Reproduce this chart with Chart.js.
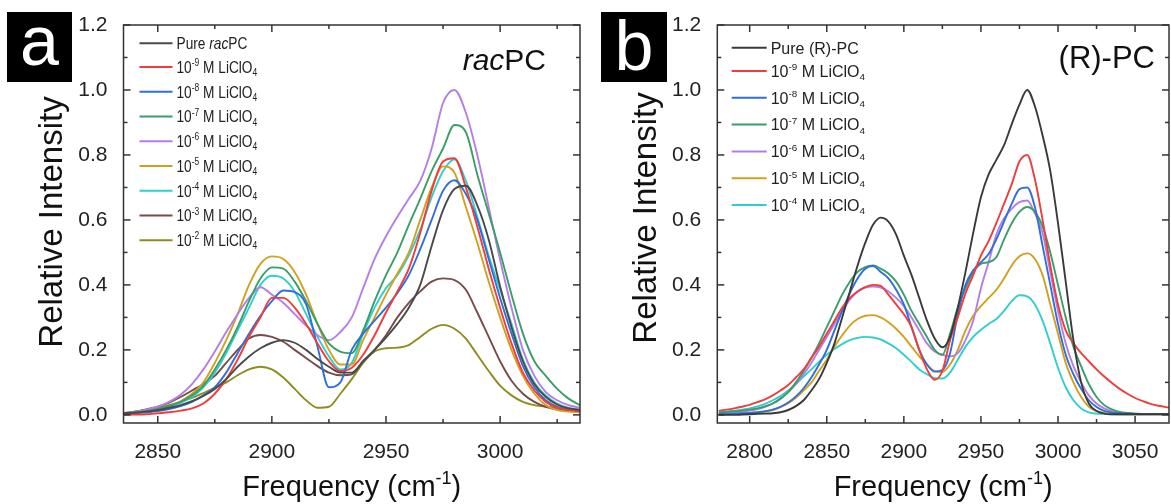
<!DOCTYPE html>
<html>
<head>
<meta charset="utf-8">
<script src="https://cdn.jsdelivr.net/npm/chart.js@4.4.1/dist/chart.umd.min.js"></script>
<style>
  html, body { margin: 0; padding: 0; background: #fff; }
  #wrap { position: relative; width: 1171px; height: 504px; overflow: hidden; }
  #chartA { position: absolute; left: 0; top: 0; }
  #chartB { position: absolute; left: 590px; top: 0; }
</style>
</head>
<body>
<div id="wrap">
  <canvas id="chartA" width="590" height="504"></canvas>
  <canvas id="chartB" width="581" height="504"></canvas>
</div>
<script>
// ---- panel a : racPC ----
const freqA = [2835, 2840, 2845, 2850, 2855, 2860, 2865, 2870, 2875, 2880, 2885, 2890, 2895, 2900,
  2905, 2910, 2915, 2920, 2925, 2930, 2935, 2940, 2945, 2950, 2955, 2960, 2965, 2970, 2975, 2980,
  2985, 2990, 2995, 3000, 3005, 3010, 3015, 3020, 3025, 3030, 3035];
const xTicksA = [2850, 2900, 2950, 3000];

const pureRac = [0.005, 0.007, 0.01, 0.015, 0.022, 0.03, 0.042, 0.058, 0.08, 0.11, 0.148, 0.18, 0.205, 0.222,
  0.23, 0.222, 0.2, 0.172, 0.148, 0.13, 0.13, 0.165, 0.2, 0.238, 0.28, 0.33, 0.4, 0.52, 0.63, 0.695,
  0.705, 0.645, 0.54, 0.395, 0.27, 0.165, 0.095, 0.055, 0.032, 0.02, 0.015];
const racM9 = [0.0, 0.001, 0.002, 0.005, 0.008, 0.013, 0.02, 0.035, 0.065, 0.11, 0.17, 0.24, 0.3, 0.36,
  0.36, 0.33, 0.28, 0.22, 0.165, 0.135, 0.145, 0.185, 0.245, 0.315, 0.38, 0.45, 0.56, 0.69, 0.78, 0.79,
  0.7, 0.58, 0.45, 0.33, 0.22, 0.13, 0.075, 0.04, 0.022, 0.015, 0.012];
const racM8 = [0.003, 0.005, 0.008, 0.012, 0.018, 0.027, 0.04, 0.06, 0.085, 0.13, 0.19, 0.25, 0.305, 0.35,
  0.383, 0.378, 0.34, 0.21, 0.085, 0.1, 0.2, 0.25, 0.29, 0.33, 0.375, 0.43, 0.51, 0.6, 0.69, 0.722,
  0.68, 0.6, 0.48, 0.36, 0.25, 0.15, 0.085, 0.045, 0.025, 0.017, 0.014];
const racM7 = [0.005, 0.008, 0.012, 0.018, 0.028, 0.04, 0.06, 0.09, 0.14, 0.2, 0.27, 0.35, 0.42, 0.454,
  0.45, 0.41, 0.35, 0.28, 0.22, 0.195, 0.19, 0.26, 0.35, 0.43, 0.5, 0.585, 0.665, 0.75, 0.82, 0.892,
  0.87, 0.74, 0.62, 0.5, 0.37, 0.25, 0.165, 0.12, 0.08, 0.05, 0.03];
const racM6 = [0.005, 0.01, 0.016, 0.025, 0.04, 0.062, 0.095, 0.14, 0.195, 0.255, 0.31, 0.36, 0.393, 0.37,
  0.345, 0.31, 0.275, 0.245, 0.23, 0.255, 0.3, 0.39, 0.48, 0.55, 0.61, 0.665, 0.72, 0.82, 0.96, 1.0,
  0.93, 0.8, 0.64, 0.477, 0.33, 0.2, 0.12, 0.07, 0.045, 0.03, 0.022];
const racM5 = [0.005, 0.008, 0.012, 0.018, 0.028, 0.042, 0.065, 0.1, 0.16, 0.23, 0.31, 0.4, 0.465, 0.488,
  0.48, 0.44, 0.37, 0.28, 0.2, 0.155, 0.155, 0.23, 0.3, 0.37, 0.435, 0.5, 0.6, 0.7, 0.765, 0.745,
  0.64, 0.53, 0.41, 0.3, 0.2, 0.12, 0.065, 0.03, 0.015, 0.01, 0.008];
const racM4 = [0.003, 0.006, 0.01, 0.016, 0.025, 0.037, 0.055, 0.085, 0.13, 0.19, 0.26, 0.33, 0.4, 0.428,
  0.42, 0.38, 0.31, 0.24, 0.18, 0.14, 0.16, 0.25, 0.33, 0.39, 0.43, 0.49, 0.57, 0.67, 0.75, 0.787,
  0.72, 0.61, 0.49, 0.385, 0.28, 0.17, 0.1, 0.06, 0.035, 0.022, 0.016];
const racM3 = [0.005, 0.01, 0.017, 0.025, 0.038, 0.055, 0.075, 0.095, 0.12, 0.16, 0.2, 0.235, 0.246, 0.24,
  0.225, 0.2, 0.175, 0.15, 0.13, 0.122, 0.125, 0.165, 0.2, 0.245, 0.3, 0.345, 0.38, 0.41, 0.42, 0.415,
  0.385, 0.315, 0.24, 0.165, 0.105, 0.065, 0.04, 0.025, 0.017, 0.014, 0.013];
const racM2 = [0.005, 0.01, 0.015, 0.022, 0.03, 0.04, 0.052, 0.067, 0.083, 0.1, 0.122, 0.14, 0.148, 0.14,
  0.115, 0.08, 0.045, 0.022, 0.025, 0.065, 0.11, 0.16, 0.195, 0.205, 0.207, 0.215, 0.24, 0.265, 0.277, 0.265,
  0.235, 0.185, 0.135, 0.09, 0.06, 0.04, 0.03, 0.025, 0.022, 0.018, 0.015];

// ---- panel b : (R)-PC ----
const freqB = [2780, 2785, 2790, 2795, 2800, 2805, 2810, 2815, 2820, 2825, 2830, 2835, 2840, 2845, 2850,
  2855, 2860, 2865, 2870, 2875, 2880, 2885, 2890, 2895, 2900, 2905, 2910, 2915, 2920, 2925, 2930,
  2935, 2940, 2945, 2950, 2955, 2960, 2965, 2970, 2975, 2980, 2985, 2990, 2995, 3000, 3005, 3010,
  3015, 3020, 3025, 3030, 3035, 3040, 3045, 3050, 3055, 3060, 3065, 3070, 3075];
const xTicksB = [2800, 2850, 2900, 2950, 3000, 3050];

const pureR = [0.0, 0.0, 0.0, 0.001, 0.002, 0.003, 0.004, 0.005, 0.008, 0.015, 0.027, 0.045, 0.075, 0.11, 0.16,
  0.22, 0.3, 0.38, 0.46, 0.53, 0.585, 0.607, 0.595, 0.555, 0.49, 0.43, 0.36, 0.29, 0.235, 0.208, 0.24,
  0.33, 0.44, 0.56, 0.67, 0.74, 0.785, 0.83, 0.895, 0.955, 1.0, 0.95, 0.86, 0.75, 0.59, 0.41, 0.23,
  0.1, 0.035, 0.012, 0.004, 0.002, 0.002, 0.002, 0.002, 0.002, 0.002, 0.002, 0.002, 0.002];
const rM9 = [0.013, 0.016, 0.02, 0.025, 0.031, 0.039, 0.048, 0.06, 0.075, 0.092, 0.115, 0.14, 0.175, 0.21, 0.25,
  0.29, 0.33, 0.36, 0.38, 0.393, 0.4, 0.397, 0.37, 0.34, 0.31, 0.27, 0.2, 0.14, 0.108, 0.135, 0.23,
  0.3, 0.374, 0.43, 0.49, 0.535, 0.59, 0.65, 0.71, 0.78, 0.8, 0.725, 0.6, 0.46, 0.34, 0.26, 0.22,
  0.19, 0.165, 0.14, 0.118, 0.098, 0.08, 0.065, 0.052, 0.042, 0.034, 0.028, 0.024, 0.021];
const rM8 = [0.003, 0.003, 0.004, 0.005, 0.006, 0.008, 0.011, 0.016, 0.025, 0.038, 0.057, 0.082, 0.115, 0.155, 0.2,
  0.26, 0.32, 0.375, 0.42, 0.45, 0.458, 0.44, 0.42, 0.385, 0.34, 0.27, 0.2, 0.155, 0.133, 0.138, 0.19,
  0.31, 0.4, 0.445, 0.47, 0.495, 0.54, 0.595, 0.65, 0.695, 0.7, 0.64, 0.52, 0.4, 0.28, 0.185, 0.125,
  0.08, 0.045, 0.024, 0.012, 0.007, 0.005, 0.004, 0.003, 0.003, 0.003, 0.003, 0.003, 0.003];
const rM7 = [0.008, 0.009, 0.011, 0.013, 0.016, 0.02, 0.026, 0.035, 0.05, 0.07, 0.1, 0.135, 0.175, 0.22, 0.27,
  0.32, 0.37, 0.41, 0.44, 0.455, 0.46, 0.45, 0.435, 0.41, 0.37, 0.32, 0.28, 0.24, 0.2, 0.185, 0.25,
  0.33, 0.39, 0.44, 0.465, 0.47, 0.485, 0.54, 0.59, 0.625, 0.64, 0.625, 0.58, 0.5, 0.4, 0.3, 0.21,
  0.15, 0.095, 0.055, 0.03, 0.017, 0.009, 0.006, 0.004, 0.003, 0.003, 0.003, 0.003, 0.003];
const rM6 = [0.005, 0.006, 0.008, 0.01, 0.013, 0.018, 0.025, 0.035, 0.05, 0.07, 0.095, 0.125, 0.16, 0.2, 0.24,
  0.28, 0.32, 0.355, 0.38, 0.392, 0.395, 0.392, 0.38, 0.36, 0.335, 0.3, 0.26, 0.22, 0.195, 0.185, 0.18,
  0.19, 0.23, 0.29, 0.39, 0.47, 0.555, 0.605, 0.635, 0.655, 0.66, 0.62, 0.56, 0.44, 0.32, 0.22, 0.15,
  0.1, 0.06, 0.035, 0.02, 0.011, 0.007, 0.005, 0.004, 0.003, 0.003, 0.003, 0.003, 0.003];
const rM5 = [0.002, 0.002, 0.003, 0.004, 0.005, 0.007, 0.01, 0.015, 0.024, 0.036, 0.053, 0.075, 0.1, 0.135, 0.17,
  0.21, 0.245, 0.275, 0.295, 0.305, 0.307, 0.3, 0.285, 0.265, 0.24, 0.21, 0.18, 0.155, 0.135, 0.132, 0.155,
  0.2, 0.26, 0.305, 0.335, 0.36, 0.385, 0.42, 0.46, 0.488, 0.497, 0.48, 0.43, 0.34, 0.25, 0.16, 0.1,
  0.055, 0.025, 0.012, 0.006, 0.003, 0.002, 0.002, 0.002, 0.002, 0.002, 0.002, 0.002, 0.002];
const rM4 = [0.008, 0.01, 0.013, 0.016, 0.02, 0.026, 0.034, 0.045, 0.058, 0.075, 0.095, 0.118, 0.14, 0.163, 0.185,
  0.203, 0.218, 0.23, 0.237, 0.24, 0.238, 0.232, 0.22, 0.205, 0.185, 0.163, 0.14, 0.125, 0.113, 0.112, 0.13,
  0.17, 0.21, 0.24, 0.262, 0.28, 0.295, 0.32, 0.35, 0.368, 0.365, 0.34, 0.29, 0.22, 0.145, 0.085, 0.045,
  0.02, 0.008, 0.004, 0.003, 0.002, 0.002, 0.002, 0.002, 0.002, 0.002, 0.002, 0.002, 0.002];

const yTicks = [0, 0.2, 0.4, 0.6, 0.8, 1.0, 1.2];

const labelsA = ['Pure *rac*PC', '10^{-9} M LiClO_{4}', '10^{-8} M LiClO_{4}', '10^{-7} M LiClO_{4}',
  '10^{-6} M LiClO_{4}', '10^{-5} M LiClO_{4}', '10^{-4} M LiClO_{4}', '10^{-3} M LiClO_{4}', '10^{-2} M LiClO_{4}'];
const labelsB = ['Pure (R)-PC', '10^{-9} M LiClO_{4}', '10^{-8} M LiClO_{4}', '10^{-7} M LiClO_{4}',
  '10^{-6} M LiClO_{4}', '10^{-5} M LiClO_{4}', '10^{-4} M LiClO_{4}'];

const colorsA = ['#4a4a4a', '#f03c3c', '#2f6fdc', '#3a9e68', '#b47ee6', '#d3a01e', '#2fcfcf', '#7a4a4a', '#8e8c1c'];
const colorsB = ['#3a3a3a', '#f03c3c', '#2f6fdc', '#3a9e68', '#b47ee6', '#d3a01e', '#2fcfcf'];

const FONT = "'Liberation Sans', Arial, Helvetica, sans-serif";

// tiny rich text: ^{sup} _{sub} *italic*
function parseRich(str) {
  const out = [];
  const re = /\^\{([^}]*)\}|_\{([^}]*)\}|\*([^*]*)\*|([^\^_*]+)/g;
  let m;
  while ((m = re.exec(str))) {
    if (m[1] !== undefined) out.push({ t: m[1], k: 'sup' });
    else if (m[2] !== undefined) out.push({ t: m[2], k: 'sub' });
    else if (m[3] !== undefined) out.push({ t: m[3], k: 'it' });
    else out.push({ t: m[4], k: 'n' });
  }
  return out;
}

function drawRich(ctx, str, x, y, size, align) {
  const segs = parseRich(str);
  const fontFor = s => {
    const small = s.k === 'sup' || s.k === 'sub';
    return (s.k === 'it' ? 'italic ' : '') + (small ? size * 0.62 : size).toFixed(1) + 'px ' + FONT;
  };
  let w = 0;
  segs.forEach(s => { ctx.font = fontFor(s); s.w = ctx.measureText(s.t).width; w += s.w; });
  let cx = align === 'right' ? x - w : (align === 'center' ? x - w / 2 : x);
  ctx.textAlign = 'left';
  ctx.textBaseline = 'alphabetic';
  segs.forEach(s => {
    ctx.font = fontFor(s);
    const dy = s.k === 'sup' ? -size * 0.4 : (s.k === 'sub' ? size * 0.2 : 0);
    ctx.fillText(s.t, cx, y + dy);
    cx += s.w;
  });
}

// frame, inward ticks, legend, titles, panel letter
function makeDecor(c) {
  return {
    id: 'decor',
    afterDraw(chart) {
      const ctx = chart.ctx;
      const a = chart.chartArea;
      const xs = chart.scales.x, ys = chart.scales.y;
      ctx.save();
      ctx.strokeStyle = '#333';
      ctx.lineWidth = 1.5;
      ctx.strokeRect(a.left, a.top, a.right - a.left, a.bottom - a.top);
      const line = (x1, y1, x2, y2) => { ctx.beginPath(); ctx.moveTo(x1, y1); ctx.lineTo(x2, y2); ctx.stroke(); };
      const withMinor = (vals, lo, hi) => {
        const st = (vals[1] - vals[0]) / 2, out = [];
        for (let k = -20; k <= 2 * vals.length + 20; k++) {
          const v = vals[0] + k * st;
          if (v >= lo - 1e-9 && v <= hi + 1e-9) out.push({ v: v, major: k % 2 === 0 });
        }
        return out;
      };
      withMinor(c.xTicks, xs.min, xs.max).forEach(t => {
        const p = xs.getPixelForValue(t.v), L = t.major ? 7 : 4;
        line(p, a.bottom, p, a.bottom - L);
        line(p, a.top, p, a.top + L);
      });
      withMinor(yTicks, ys.min, ys.max).forEach(t => {
        const p = ys.getPixelForValue(t.v), L = t.major ? 7 : 4;
        line(a.left, p, a.left + L, p);
        line(a.right, p, a.right - L, p);
      });

      // legend
      chart.data.datasets.forEach((ds, i) => {
        const y = i === 0 ? c.legY0 : c.legY1 + (i - 1) * c.legStep;
        ctx.strokeStyle = ds.borderColor;
        ctx.lineWidth = 2;
        line(c.legX, y, c.legX + c.legLen, y);
        ctx.fillStyle = '#222';
        ctx.save();
        ctx.translate(c.legX + c.legLen + 4, 0);
        ctx.scale(c.legScaleX, 1);
        drawRich(ctx, ds.label, 0, y + c.legSize * 0.36, c.legSize, 'left');
        ctx.restore();
      });

      // note in the corner
      ctx.fillStyle = '#111';
      drawRich(ctx, c.note, c.noteX, c.noteY, c.noteSize, 'right');

      // axis titles
      drawRich(ctx, 'Frequency (cm^{-1})', (a.left + a.right) / 2, c.xTitleY, 29, 'center');
      ctx.save();
      ctx.translate(c.yTitleX, c.yTitleY);
      ctx.rotate(-Math.PI / 2);
      drawRich(ctx, 'Relative Intensity', 0, 0, 33, 'center');
      ctx.restore();

      // panel letter
      ctx.fillStyle = '#000';
      ctx.fillRect(c.box[0], c.box[1], c.box[2], c.box[3]);
      ctx.fillStyle = '#fff';
      ctx.font = c.letterSize + 'px ' + FONT;
      ctx.textAlign = 'center';
      ctx.textBaseline = 'alphabetic';
      ctx.fillText(c.letter, c.box[0] + c.box[2] / 2, c.letterY);
      ctx.restore();
    }
  };
}

function makeChart(id, freq, series, labels, colors, c) {
  const datasets = series.map((vals, i) => ({
    label: labels[i],
    data: freq.map((f, j) => ({ x: f, y: vals[j] })),
    borderColor: colors[i],
    borderWidth: 1.9,
    pointRadius: 0,
    cubicInterpolationMode: 'monotone',
    fill: false
  }));
  return new Chart(document.getElementById(id), {
    type: 'line',
    data: { datasets: datasets },
    options: {
      responsive: false,
      animation: false,
      devicePixelRatio: 1,
      layout: { padding: { left: 0, top: c.top, right: c.right, bottom: 0 } },
      plugins: { legend: { display: false }, tooltip: { enabled: false } },
      scales: {
        x: {
          type: 'linear', min: c.xMin, max: c.xMax,
          grid: { display: false }, border: { display: false },
          ticks: { font: { family: FONT, size: 21 }, color: '#222', padding: 9, maxRotation: 0,
            callback: v => String(v) },
          afterBuildTicks: s => { s.ticks = c.xTicks.map(v => ({ value: v })); },
          afterFit: s => { s.height = 504 - c.bottom; }
        },
        y: {
          min: -0.025, max: 1.2,
          grid: { display: false }, border: { display: false },
          ticks: { font: { family: FONT, size: 21 }, color: '#222', padding: 8,
            callback: v => Number(v).toFixed(1) },
          afterBuildTicks: s => { s.ticks = yTicks.map(v => ({ value: v })); },
          afterFit: s => { s.width = c.left; }
        }
      }
    },
    plugins: [makeDecor(c)]
  });
}

makeChart('chartA', freqA, [pureRac, racM9, racM8, racM7, racM6, racM5, racM4, racM3, racM2], labelsA, colorsA, {
  xMin: 2835, xMax: 3035, xTicks: xTicksA,
  left: 123.5, right: 10, top: 25, bottom: 423,
  legX: 139.5, legLen: 33, legY0: 43.3, legY1: 66.9, legStep: 24.75, legSize: 16.5, legScaleX: 0.83,
  note: '*rac*PC', noteX: 546, noteY: 70, noteSize: 30,
  xTitleY: 496, yTitleX: 61.5, yTitleY: 222,
  box: [7, 12, 65, 70], letter: 'a', letterSize: 70, letterY: 65
});

makeChart('chartB', freqB, [pureR, rM9, rM8, rM7, rM6, rM5, rM4], labelsB, colorsB, {
  xMin: 2779, xMax: 3072, xTicks: xTicksB,
  left: 127.3, right: 2, top: 25, bottom: 423,
  legX: 141.7, legLen: 35, legY0: 47.8, legY1: 71, legStep: 26.8, legSize: 16, legScaleX: 1,
  note: '(R)-PC', noteX: 565, noteY: 68, noteSize: 31,
  xTitleY: 496, yTitleX: 65.5, yTitleY: 218,
  box: [11, 12, 66, 70], letter: 'b', letterSize: 70, letterY: 70
});
</script>
</body>
</html>
